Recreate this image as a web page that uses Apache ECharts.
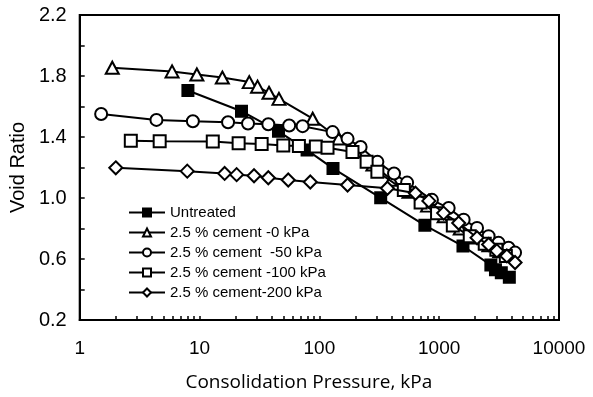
<!DOCTYPE html>
<html>
<head>
<meta charset="utf-8">
<script src="https://cdn.jsdelivr.net/npm/echarts@6/dist/echarts.min.js"></script>
<style>html,body{margin:0;padding:0;background:#fff;}#c{width:593px;height:397px;}</style>
</head>
<body>
<div id="c"></div>
<script>
const seriesNames = ['Untreated', '2.5 % cement -0 kPa', '2.5 % cement  -50 kPa', '2.5 % cement -100 kPa', '2.5 % cement-200 kPa'];

const pressureUntreated = [8, 22.4, 45.6, 79, 130, 325, 760, 1580, 2700, 2950, 3300, 3850];
const voidUntreated     = [1.705, 1.569, 1.437, 1.314, 1.194, 1.001, 0.821, 0.685, 0.56, 0.53, 0.51, 0.48];

const pressure0 = [1.87, 5.9, 9.5, 15.5, 26, 30.5, 38, 46, 88, 145, 200, 280, 400, 560, 800, 1100, 1500, 2000, 2600, 3200, 3800];
const void0     = [1.854, 1.83, 1.81, 1.79, 1.76, 1.73, 1.69, 1.65, 1.52, 1.39, 1.31, 1.22, 1.12, 1.04, 0.95, 0.88, 0.80, 0.74, 0.69, 0.65, 0.62];

const pressure50 = [1.51, 4.37, 8.8, 17.3, 25.4, 37.5, 56, 72.5, 129, 172, 221, 305, 420, 540, 870, 1200, 1600, 2070, 2585, 3130, 3790, 4300];
const void50     = [1.551, 1.512, 1.503, 1.497, 1.489, 1.484, 1.475, 1.471, 1.432, 1.388, 1.334, 1.237, 1.161, 1.101, 0.988, 0.934, 0.858, 0.804, 0.750, 0.706, 0.674, 0.642];

const pressure100 = [2.67, 4.65, 12.9, 21.2, 33, 50, 67.5, 93.5, 117, 189, 248, 305, 507, 700, 960, 1300, 1800, 2400, 3000, 3600];
const void100     = [1.375, 1.372, 1.37, 1.359, 1.354, 1.345, 1.341, 1.338, 1.33, 1.302, 1.237, 1.172, 1.053, 0.97, 0.90, 0.82, 0.75, 0.70, 0.66, 0.62];

const pressure200 = [2.0, 7.9, 16.2, 20.4, 28.5, 37.5, 55, 84, 172, 370, 634, 820, 1090, 1455, 2070, 2585, 3030, 3670, 4300];
const void200     = [1.198, 1.176, 1.161, 1.153, 1.146, 1.133, 1.118, 1.105, 1.085, 1.064, 1.031, 0.981, 0.901, 0.836, 0.739, 0.695, 0.653, 0.620, 0.577];

const xTickValues = [1,2,3,4,5,6,7,8,9,10,20,30,40,50,60,70,80,90,100,200,300,400,500,600,700,800,900,1000,2000,3000,4000,5000,6000,7000,8000,9000,10000];
const xLabelValues = [1, 10, 100, 1000, 10000];
const yLabelValues = ['0.2', '0.6', '1.0', '1.4', '1.8', '2.2'];

function pairs(xs, ys) { return xs.map((x, i) => [x, ys[i]]); }

const symbols = ['rect', 'emptyTriangle', 'emptyCircle', 'emptyRect', 'emptyDiamond'];
const sizes = [11, [13, 12], 12, 12, [13, 13]];
const datasets = [
  pairs(pressureUntreated, voidUntreated),
  pairs(pressure0, void0),
  pairs(pressure50, void50),
  pairs(pressure100, void100),
  pairs(pressure200, void200)
];

const chart = echarts.init(document.getElementById('c'));
chart.setOption({
  animation: false,
  backgroundColor: '#fff',
  grid: { left: 78, top: 15, right: 34, bottom: 74, show: true, borderColor: '#000', borderWidth: 2 },
  legend: {
    orient: 'vertical', left: 123, top: 200, itemWidth: 36, itemHeight: 10, itemGap: 5,
    textStyle: { fontFamily: 'Liberation Sans', fontSize: 15, color: '#000' },
    data: seriesNames
  },
  xAxis: {
    type: 'log', logBase: 10, min: 1, max: 10000,
    name: 'Consolidation Pressure, kPa', nameLocation: 'middle', nameGap: 53,
    nameTextStyle: { fontFamily: 'Open Sans', fontSize: 19, color: '#000', padding: [0, 21, 0, 0] },
    axisLine: { lineStyle: { color: '#000', width: 2 } },
    axisTick: { inside: true, length: 4, customValues: xTickValues, lineStyle: { color: '#000', width: 1.5 } },
    axisLabel: {
      customValues: xLabelValues, fontFamily: 'Liberation Sans', fontSize: 19, color: '#000', margin: 19,
      formatter: function (v) { return String(Math.round(v)); }
    },
    splitLine: { show: false }, minorSplitLine: { show: false }
  },
  yAxis: {
    type: 'value', min: 0.2, max: 2.2, interval: 0.2,
    name: 'Void Ratio', nameLocation: 'middle', nameGap: 44,
    nameTextStyle: { fontFamily: 'Liberation Sans', fontSize: 20, color: '#000' },
    axisLine: { show: true, lineStyle: { color: '#000', width: 2 } },
    axisTick: { inside: true, length: 5, lineStyle: { color: '#000', width: 1.5 } },
    axisLabel: {
      fontFamily: 'Liberation Sans', fontSize: 20, color: '#000', margin: 13, padding: [6, 0, 0, 0],
      formatter: function (v) { const s = v.toFixed(1); return yLabelValues.indexOf(s) >= 0 ? s : ''; }
    },
    splitLine: { show: false }
  },
  series: datasets.map((d, i) => ({
    name: seriesNames[i], type: 'line', data: d,
    symbol: symbols[i], symbolSize: sizes[i],
    lineStyle: { color: '#000', width: 2 },
    itemStyle: { color: '#000', borderColor: '#000', borderWidth: 2 },
    z: 2 + i
  }))
});
</script>
</body>
</html>
